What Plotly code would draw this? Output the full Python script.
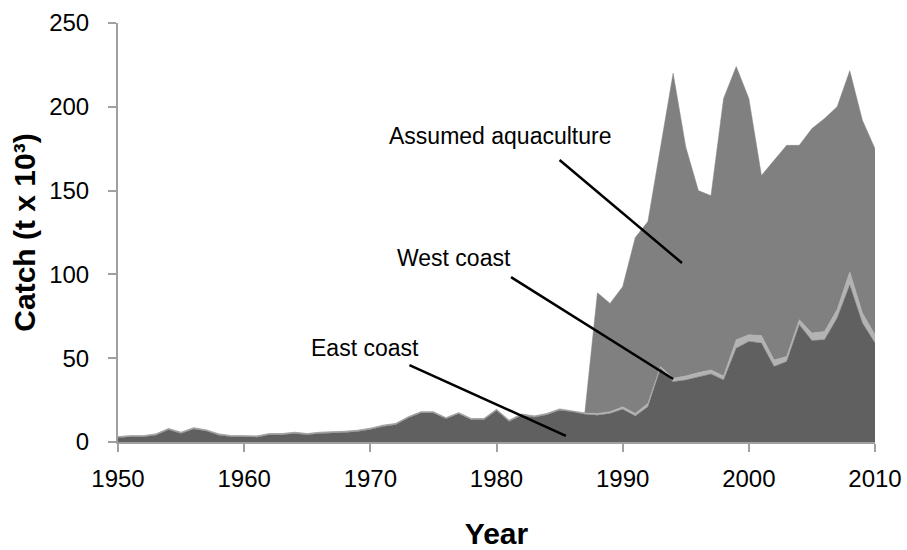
"""Stacked area chart: catch by coast plus assumed aquaculture, 1950-2010."""

import plotly.graph_objects as go

ANOS = list(range(1950, 2011))

# East coast catch (t x 10^3)
COSTA_LESTE = [
    2.6, 3.1, 3.1, 4.1, 7.3, 5.1, 7.8, 6.5, 4.1, 3.1,
    3.1, 2.9, 4.3, 4.3, 5.1, 4.3, 5.1, 5.3, 5.7, 6.3,
    7.5, 9.3, 10.3, 14.3, 17.3, 17.3, 13.8, 16.8, 13.3, 13.3,
    18.8, 12.3, 16.0, 14.8, 16.3, 19.0, 18.0, 16.5, 16.0, 17.0,
    19.5, 15.5, 21.0, 44.0, 36.0, 37.0, 39.0, 40.6, 37.0, 56.0,
    60.0, 59.0, 45.0, 48.0, 70.0, 60.5, 61.0, 74.0, 93.7, 71.0,
    59.0,
]

# West coast catch (t x 10^3)
COSTA_OESTE = [
    0.6, 0.7, 0.7, 0.7, 0.7, 0.7, 0.7, 0.7, 0.7, 0.7,
    0.7, 0.7, 0.7, 0.7, 0.7, 0.7, 0.7, 0.7, 0.7, 0.7,
    0.7, 0.7, 0.7, 0.7, 0.7, 0.7, 0.7, 0.7, 0.7, 0.7,
    0.7, 0.7, 0.7, 0.7, 0.7, 0.7, 0.7, 0.8, 1.0, 1.0,
    1.5, 1.5, 2.0, 1.0, 2.0, 2.4, 2.4, 2.4, 2.4, 5.0,
    4.0, 4.5, 4.0, 3.0, 3.0, 4.5, 5.0, 5.0, 7.9, 6.0,
    5.0,
]

# Assumed aquaculture (t x 10^3)
AQUICULTURA = [0.0] * 37 + [
    0.0, 72.0, 64.7, 71.7, 105.0, 108.5, 131.0, 182.0, 136.6, 108.6,
    104.0, 165.6, 163.0, 141.0, 95.5, 119.0, 126.0, 104.0, 122.0, 127.0,
    121.0, 119.9, 115.0, 111.0,
]

_FONTE = "Liberation Sans, Arial, sans-serif"

_CORES = {
    "East coast": "#606060",
    "West coast": "#b3b3b3",
    "Assumed aquaculture": "#808080",
}

# rótulos e linhas de chamada (em coordenadas dos dados)
_ROTULOS = [
    ("Assumed aquaculture", 1980.3, 182.5, (1985.0, 168.3, 1994.7, 106.8)),
    ("West coast", 1976.6, 109.8, (1981.15, 98.4, 1994.0, 37.6)),
    ("East coast", 1969.6, 56.1, (1973.1, 45.9, 1985.5, 3.6)),
]

fig = go.Figure()
for nome, valores in [
    ("East coast", COSTA_LESTE),
    ("West coast", COSTA_OESTE),
    ("Assumed aquaculture", AQUICULTURA),
]:
    cor = _CORES[nome]
    fig.add_trace(
        go.Scatter(
            x=ANOS,
            y=valores,
            name=nome,
            mode="lines",
            stackgroup="captura",
            fillcolor=cor,
            line={"color": cor, "width": 0.5},
            hovertemplate=f"<b>{nome}</b><br>%{{x}}: %{{y}}<extra></extra>",
        )
    )

for texto, tx, ty, (x0, y0, x1, y1) in _ROTULOS:
    fig.add_shape(
        type="line", xref="x", yref="y",
        x0=x0, y0=y0, x1=x1, y1=y1,
        line={"color": "#000000", "width": 2.5},
    )
    fig.add_annotation(
        x=tx, y=ty, text=texto, showarrow=False,
        font={"family": _FONTE, "size": 23, "color": "#000000"},
    )

_EIXO = {
    "showline": True,
    "linecolor": "#a0a0a0",
    "linewidth": 2,
    "showgrid": False,
    "zeroline": False,
    "automargin": False,
    "ticks": "outside",
    "ticklen": 8,
    "tickwidth": 2,
    "tickcolor": "#a0a0a0",
    "tickfont": {"family": _FONTE, "size": 24, "color": "#000000"},
}

_TITULO_FONTE = {"family": _FONTE, "size": 30, "color": "#000000"}

fig.update_layout(
    width=907,
    height=550,
    autosize=False,
    showlegend=False,
    plot_bgcolor="#ffffff",
    paper_bgcolor="#ffffff",
    margin={"l": 118, "r": 32, "t": 23, "b": 108},
    xaxis={
        **_EIXO,
        "range": [1950, 2010],
        "tickvals": list(range(1950, 2011, 10)),
        "ticklabelstandoff": 6,
        "title": {"text": "<b>Year</b>", "font": _TITULO_FONTE, "standoff": 35},
    },
    yaxis={
        **_EIXO,
        "range": [0, 250],
        "tickvals": list(range(0, 251, 50)),
        "ticklabelstandoff": 14,
        "title": {"text": "<b>Catch (t x 10³)</b>", "font": _TITULO_FONTE, "standoff": 5},
    },
)

# a página tem margem de 8px no body; removê-la para o gráfico ocupar a janela toda
fig.write_html(
    "out.html",
    config={"displayModeBar": False},
    post_script="document.body.style.margin='0';",
)
